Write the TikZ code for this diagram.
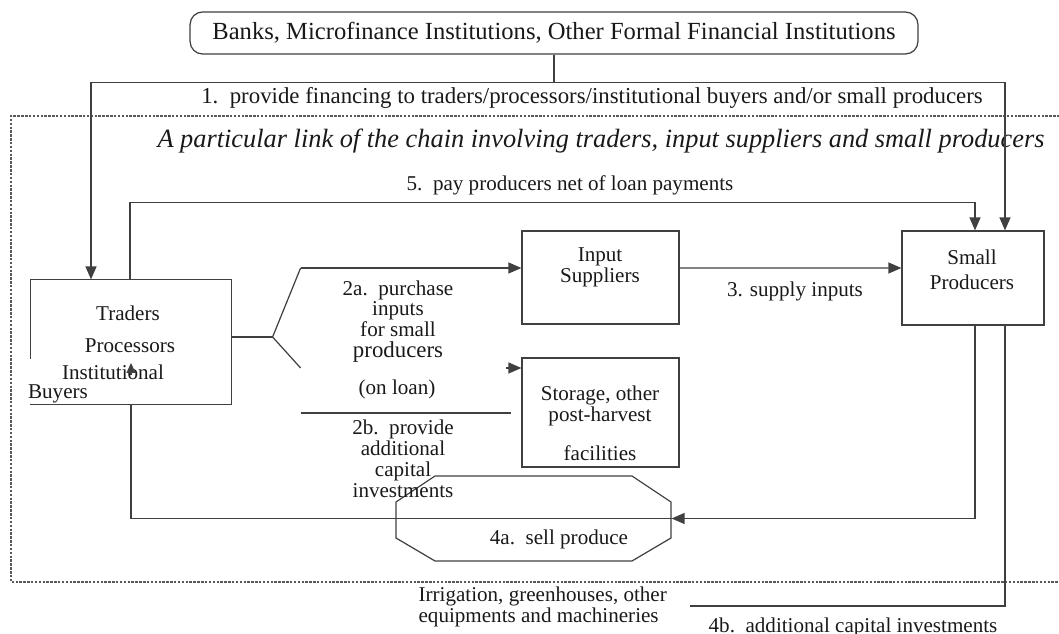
\documentclass[tikz,border=0pt]{standalone}
\usepackage{fontspec}
\setmainfont{Liberation Serif}
\usetikzlibrary{arrows.meta}

\begin{document}
\begin{tikzpicture}[x=0.02cm,y=-0.02cm,line width=0.7pt,
    unit/.style={rectangle,draw=black!75,fill=white,inner sep=0pt},
    txt/.style={inner sep=0pt,align=center,text=black!90,font=\fontsize{12}{12}\selectfont},
    link/.style={draw=black!75,-{Triangle[length=2.6mm,width=2.2mm]}},
    plain/.style={draw=black!75}]
  \useasboundingbox (0,0) rectangle (1059,634);

  % the chain region
  \draw[black!65,line width=0.6pt,dash pattern=on 1.4pt off 0.8pt] (1075,116) -- (11,116) -- (11,582) -- (1075,582);

  % main units
  \node[unit,rounded corners=0.25cm,minimum width=14.56cm,minimum height=0.84cm,text=black!90,font=\fontsize{14}{15}\selectfont] (banks) at (554,33) {Banks, Microfinance Institutions, Other Formal Financial Institutions};
  \node[unit,draw=none,minimum width=4cm,minimum height=2.48cm] (traders) at (131,342) {};
  \node[unit,minimum width=3.14cm,minimum height=1.86cm] (inputs) at (600.5,277.5) {};
  \node[unit,minimum width=3.14cm,minimum height=2.18cm] (storage) at (600.5,412.5) {};
  \node[unit,minimum width=2.84cm,minimum height=1.88cm] (producers) at (973,278) {};
  \draw[plain] (traders.north west) -- (traders.north east) -- (traders.south east) -- (traders.south west);
  \draw[plain] (traders.north west) -- ++(0,80);

  % sell produce
  \node[inner sep=0pt,minimum width=5.5cm,minimum height=1.7cm] (sell) at (533.5,518.5) {};
  \draw[plain] (435,476) -- (632,476) -- (671,502) -- (671,538) -- (632,561) -- (435,561) -- (396,538) -- (396,502) -- cycle;

  % texts in the units
  \node[txt] (tr1) at (128,313) {Traders};
  \node[txt] (tr2) at (130,346) {Processors};
  \node[txt] (tr3) at (113,372) {Institutional};
  \node[txt] (tr4) at (58,394) {Buyers};
  \node[txt] (in1) at (600,267) {Input\\Suppliers};
  \node[txt,font=\fontsize{12}{14}\selectfont] (pr1) at (972,270) {Small\\Producers};
  \node[txt] (st1) at (600,406) {Storage, other\\post-harvest};
  \node[txt] (st2) at (600,453) {facilities};

  % labels
  \node[txt,font=\fontsize{13}{14}\selectfont] (fin) at (592,98) {1.\ \ provide financing to traders/processors/institutional buyers and/or small producers};
  \node[txt,font=\fontsize{15}{17}\selectfont\itshape] (chain) at (601,141) {A particular link of the chain involving traders, input suppliers and small producers};
  \node[txt] (pay) at (570,185) {5.\ \ pay producers net of loan payments};
  \node[txt] (supply) at (795,291) {3. supply inputs};
  \node[txt,font=\fontsize{12}{11}\selectfont] (buy) at (398,309) {2a.\ \ purchase\\inputs\\for small};
  \node[txt,font=\fontsize{13}{14}\selectfont] (buy2) at (398,352) {producers};
  \node[txt] (loan) at (397,389) {(on loan)};
  \node[txt] (capital) at (403,459) {2b.\ \ provide\\additional\\capital\\investments};
  \node[txt] (selltxt) at (559,539) {4a.\ \ sell produce};
  \node[txt,align=left,anchor=west] (irr) at (418,607) {Irrigation, greenhouses, other\\equipments and machineries};
  \node[txt] (invest) at (853,627) {4b.\ \ additional capital investments};

  % 1. financing
  \draw[plain] (banks.south) -- ++(0,28) coordinate (fork);
  \draw[link] (fork) -| ([xshift=-0.8cm]traders.north);
  \draw[link] (fork) -| ([xshift=0.64cm]producers.north);
  % 5. payment
  \draw[link] ([xshift=-0.02cm]traders.north) -- ++(0,-77) -| ([xshift=0.04cm]producers.north);
  % 2a. and 2b.
  \draw[plain] ([yshift=0.1cm]traders.east) -- ++(41,0) coordinate (split);
  \draw[plain] (split) -- ++(28,-69) coordinate (upper);
  \draw[link] (upper) -- (upper -| inputs.west);
  \draw[plain] (split) -- ++(28,31) coordinate (lower);
  \coordinate (lowtip) at (storage.west |- lower);
  \draw[link] ([xshift=-0.3cm]lowtip) -- (lowtip);
  \draw[plain] ([yshift=-0.9cm]lower) -- ++(210,0);
  % 3. supply
  \draw[link] ([yshift=0.19cm]inputs.east) -- ([yshift=0.2cm]producers.west);
  % 4a. sell
  \draw[link] ([xshift=0.04cm]producers.south) |- (sell.east);
  \draw[plain] (sell.east) -| (traders.south);
  \draw[draw=black!75,-{Triangle[length=2mm,width=1.8mm]}] ([yshift=-0.66cm]traders.center) -- ([yshift=-0.42cm]traders.center);
  % 4b. investments
  \coordinate (irrend) at (690,606);
  \draw[plain] ([xshift=0.64cm]producers.south) |- (irrend);
\end{tikzpicture}
\end{document}
